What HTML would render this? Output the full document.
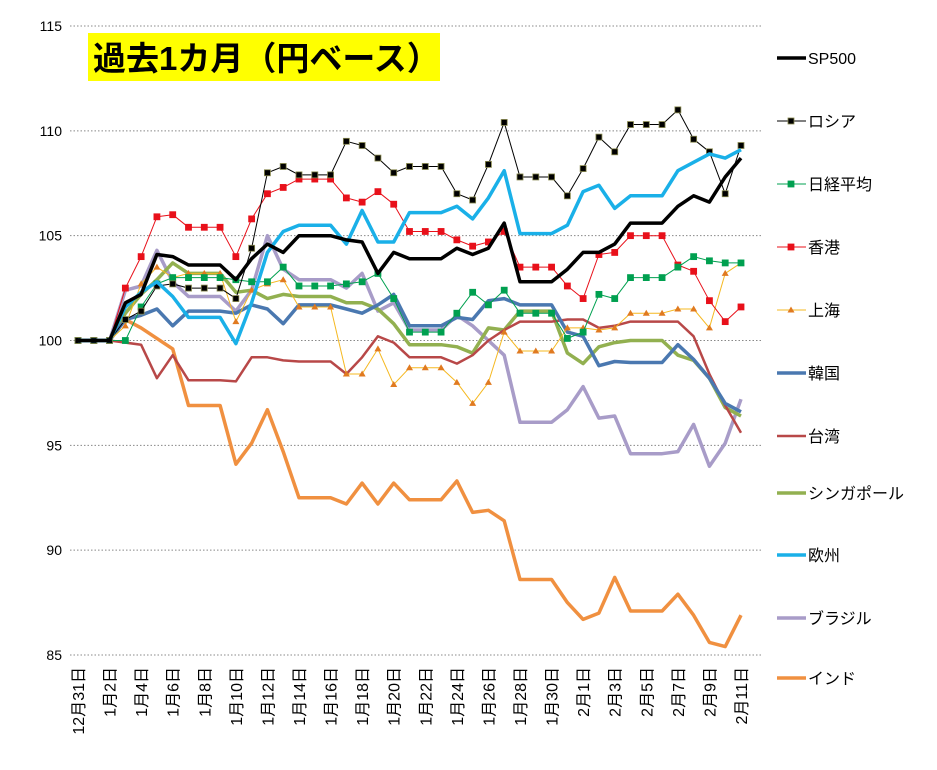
<!DOCTYPE html>
<html><head><meta charset="utf-8">
<style>
body{margin:0;background:#fff;}
svg{display:block;font-family:"Liberation Sans","Noto Sans CJK JP",sans-serif;}
</style></head>
<body>
<svg id="chart" width="937" height="770" viewBox="0 0 937 770" xmlns="http://www.w3.org/2000/svg">
<rect x="0" y="0" width="937" height="770" fill="#fff"/>
<g id="grid"></g><g id="yaxis"></g><g id="xaxis"></g><g id="series"></g><g id="legend"></g>
<rect x="88" y="33" width="352" height="48" fill="#ffff00"/>
<text x="93" y="70" font-size="33" font-weight="bold" fill="#000">過去1カ月（円ベース）</text>
</svg>
<script>
const categories=["12月31日","1月1日","1月2日","1月3日","1月4日","1月5日","1月6日","1月7日","1月8日","1月9日","1月10日","1月11日","1月12日","1月13日","1月14日","1月15日","1月16日","1月17日","1月18日","1月19日","1月20日","1月21日","1月22日","1月23日","1月24日","1月25日","1月26日","1月27日","1月28日","1月29日","1月30日","1月31日","2月1日","2月2日","2月3日","2月4日","2月5日","2月6日","2月7日","2月8日","2月9日","2月10日","2月11日"];
const yTicks=[85,90,95,100,105,110,115];
const seriesNames=["SP500","ロシア","日経平均","香港","上海","韓国","台湾","シンガポール","欧州","ブラジル","インド"];
const sp500=[100,100,100,101.8,102.2,104.1,104.0,103.6,103.6,103.6,102.9,103.9,104.6,104.2,105.0,105.0,105.0,104.8,104.7,103.2,104.2,103.9,103.9,103.9,104.4,104.1,104.4,105.6,102.8,102.8,102.8,103.4,104.2,104.2,104.6,105.6,105.6,105.6,106.4,106.9,106.6,107.8,108.7];
const russia=[100,100,100,101.0,101.4,102.6,102.7,102.5,102.5,102.5,102.0,104.4,108.0,108.3,107.9,107.9,107.9,109.5,109.3,108.7,108.0,108.3,108.3,108.3,107.0,106.7,108.4,110.4,107.8,107.8,107.8,106.9,108.2,109.7,109.0,110.3,110.3,110.3,111.0,109.6,109.0,107.0,109.3];
const nikkei=[100,100,100,100.0,101.6,102.7,103.0,103.0,103.0,103.0,102.9,102.8,102.8,103.5,102.6,102.6,102.6,102.7,102.8,103.2,102.0,100.4,100.4,100.4,101.3,102.3,101.7,102.4,101.3,101.3,101.3,100.1,100.4,102.2,102.0,103.0,103.0,103.0,103.5,104.0,103.8,103.7,103.7];
const hongkong=[100,100,100,102.5,104.0,105.9,106.0,105.4,105.4,105.4,104.0,105.8,107.0,107.3,107.7,107.7,107.7,106.8,106.6,107.1,106.5,105.2,105.2,105.2,104.8,104.5,104.7,105.2,103.5,103.5,103.5,102.6,102.0,104.1,104.2,105.0,105.0,105.0,103.6,103.3,101.9,100.9,101.6];
const shanghai=[100,100,100,100.7,102.7,103.5,103.0,103.2,103.2,103.2,100.9,102.4,102.7,102.9,101.6,101.6,101.6,98.4,98.4,99.6,97.9,98.7,98.7,98.7,98.0,97.0,98.0,100.4,99.5,99.5,99.5,100.6,100.6,100.5,100.6,101.3,101.3,101.3,101.5,101.5,100.6,103.2,103.7];
const korea=[100,100,100,101.0,101.2,101.5,100.7,101.4,101.4,101.4,101.3,101.7,101.5,100.8,101.7,101.7,101.7,101.5,101.3,101.7,102.2,100.7,100.7,100.7,101.1,101.0,101.9,102.0,101.7,101.7,101.7,100.4,100.2,98.8,99.0,98.95,98.95,98.95,99.8,99.1,98.2,97.0,96.6];
const taiwan=[100,100,100,99.9,99.8,98.2,99.3,98.1,98.1,98.1,98.05,99.2,99.2,99.05,99.0,99.0,99.0,98.4,99.2,100.2,99.9,99.2,99.2,99.2,98.9,99.3,100.0,100.5,100.9,100.9,100.9,101.0,101.0,100.6,100.7,100.9,100.9,100.9,100.9,100.2,98.4,96.9,95.6];
const singapore=[100,100,100,101.3,102.2,102.9,103.7,103.2,103.2,103.2,102.3,102.4,102.0,102.2,102.1,102.1,102.1,101.8,101.8,101.5,100.8,99.8,99.8,99.8,99.7,99.4,100.6,100.5,101.4,101.4,101.4,99.4,98.9,99.7,99.9,100.0,100.0,100.0,99.3,99.05,98.2,96.8,96.4];
const europe=[100,100,100,101.6,102.3,102.8,102.1,101.1,101.1,101.1,99.85,101.8,104.2,105.2,105.5,105.5,105.5,104.6,106.2,104.7,104.7,106.1,106.1,106.1,106.4,105.8,106.8,108.1,105.1,105.1,105.1,105.5,107.1,107.4,106.3,106.9,106.9,106.9,108.1,108.5,108.9,108.7,109.1];
const brazil=[100,100,100,102.4,102.6,104.3,102.8,102.1,102.1,102.1,101.4,102.4,105.0,103.4,102.9,102.9,102.9,102.5,103.2,101.4,101.8,100.5,100.5,100.5,101.2,100.7,100.0,99.3,96.1,96.1,96.1,96.7,97.8,96.3,96.4,94.6,94.6,94.6,94.7,96.0,94.0,95.1,97.2];
const india=[100,100,100,101.0,100.6,100.1,99.6,96.9,96.9,96.9,94.1,95.1,96.7,94.7,92.5,92.5,92.5,92.2,93.2,92.2,93.2,92.4,92.4,92.4,93.3,91.8,91.9,91.4,88.6,88.6,88.6,87.5,86.7,87.0,88.7,87.1,87.1,87.1,87.9,86.9,85.6,85.4,86.9];

const NS="http://www.w3.org/2000/svg";
const X0=78,X1=741,Y0=655,Y1=26,YMIN=85,YMAX=115;
function xs(i){return X0+(X1-X0)*i/(categories.length-1);}
function ys(v){return Y0-(v-YMIN)/(YMAX-YMIN)*(Y0-Y1);}
function mk(tag,attrs,parent){const e=document.createElementNS(NS,tag);for(const k in attrs)e.setAttribute(k,attrs[k]);parent.appendChild(e);return e;}
const grid=document.getElementById('grid'),yax=document.getElementById('yaxis'),xax=document.getElementById('xaxis'),ser=document.getElementById('series'),leg=document.getElementById('legend');

yTicks.forEach(t=>{
  const l=mk('line',{x1:70,x2:762,y1:ys(t),y2:ys(t),stroke:'#888','stroke-width':1,'stroke-dasharray':'1.5,2'},grid);
  
  
  const tx=mk('text',{x:62,y:ys(t)+5,'text-anchor':'end','font-size':14,fill:'#000'},yax);
  tx.textContent=t;
  
  
});
categories.forEach((c,i)=>{
  if(i%2!==0)return;
  const x=xs(i)+6,y=667;
  const tx=mk('text',{x:x,y:y,'text-anchor':'end','font-size':16,fill:'#000',transform:`rotate(-90 ${x} ${y})`},xax);
  tx.textContent=c;
  
  
});

const styles=[
 {d:sp500,c:'#000',w:3.5,m:null},
 {d:russia,c:'#000',w:1,m:'sq',mf:'#000',ms:'#8a8a50'},
 {d:nikkei,c:'#00a050',w:1,m:'sq',mf:'#00a050',ms:'#00a050'},
 {d:hongkong,c:'#e8101a',w:1,m:'sq',mf:'#e8101a',ms:'#e8101a'},
 {d:shanghai,c:'#f5b820',w:1,m:'tri',mf:'#e07a20',ms:'#e07a20'},
 {d:korea,c:'#4a78b0',w:3.5,m:null},
 {d:taiwan,c:'#b84848',w:2.5,m:null},
 {d:singapore,c:'#92b050',w:3.5,m:null},
 {d:europe,c:'#1ab0e8',w:3.5,m:null},
 {d:brazil,c:'#a89cc8',w:3.5,m:null},
 {d:india,c:'#f09040',w:3.5,m:null}
];
const drawOrder=[10,9,7,6,5,4,3,2,1,8,0];
const legendY=[58,121,184,247,310,373,436,493,555,618,678];
function marker(type,x,y,s,g){
  if(type==='sq'){const r=mk('rect',{x:x-3,y:y-3,width:6,height:6,fill:s.mf,stroke:s.ms,'stroke-width':0.8},g);return r;}
  const p=mk('polygon',{points:`${x},${y-3.5} ${x+3.5},${y+2.5} ${x-3.5},${y+2.5}`,fill:s.mf},g);return p;
}
drawOrder.forEach(si=>{
  const s=styles[si];
  const g=mk('g',{},ser);
  
  
  const pts=s.d.map((v,i)=>xs(i).toFixed(1)+','+ys(v).toFixed(1)).join(' ');
  const pl=mk('polyline',{points:pts,fill:'none',stroke:s.c,'stroke-width':s.w,'stroke-linejoin':'round'},g);
  
  
  if(s.m){s.d.forEach((v,i)=>{const m=marker(s.m,xs(i),ys(v),s,g);
    
    });}
});
seriesNames.forEach((n,si)=>{
  const s=styles[si];const y=legendY[si];
  const g=mk('g',{},leg);
  
  
  mk('line',{x1:777,x2:806,y1:y,y2:y,stroke:s.c,'stroke-width':s.w},g);
  if(s.m)marker(s.m,791,y,s,g);
  const t=mk('text',{x:808,y:y+6,'font-size':16,fill:'#000'},g);
  t.textContent=n;
});
</script>
</body></html>
